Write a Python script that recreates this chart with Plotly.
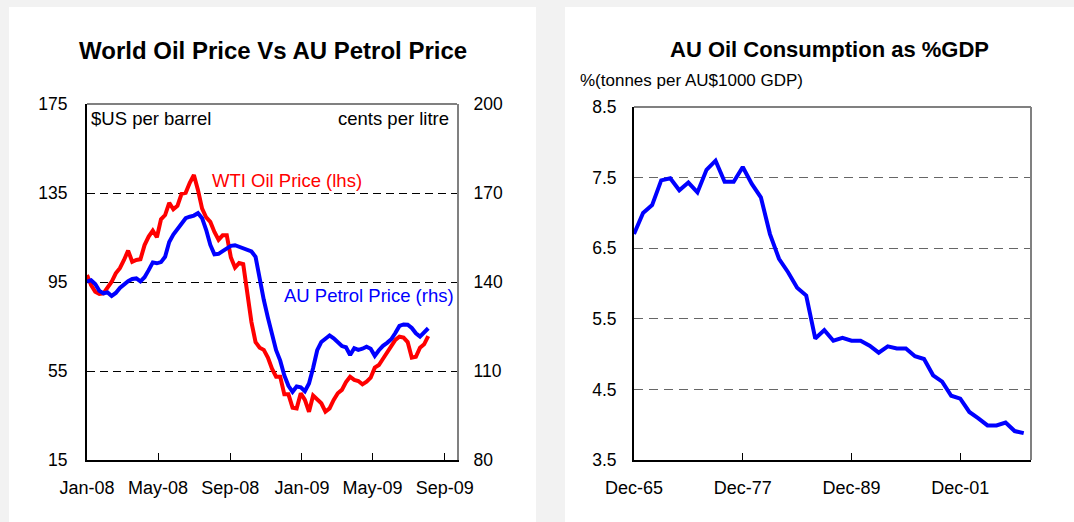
import pandas as pd
import plotly.graph_objects as go

# ---------------- data ----------------
# Left chart: weekly series starting first week of Jan 2008
wti_oil_price = [98.1, 93.6, 90.6, 89.6, 89.9, 92.2, 95.1, 98.9, 101.2, 104.9,
                 109.1, 104.1, 104.9, 105.2, 111.6, 115.4, 118.1, 115.1, 123.2, 125.1,
                 130.6, 127.7, 129.2, 134.6, 135.1, 139.6, 143.1, 136.3, 128.0, 124.0,
                 122.0, 117.5, 114.0, 116.0, 116.0, 106.0, 101.5, 103.5, 103.0, 90.0,
                 77.0, 68.0, 65.5, 64.5, 61.0, 56.0, 52.4, 52.4, 44.5, 44.5,
                 38.5, 38.2, 45.0, 42.0, 36.7, 44.0, 42.0, 40.5, 36.7, 38.2,
                 42.0, 45.0, 46.5, 50.0, 52.4, 51.0, 50.5, 49.0, 50.2, 52.0,
                 56.5, 57.7, 60.5, 63.5, 66.5, 69.0, 70.4, 70.0, 68.0, 61.0,
                 61.4, 65.5, 67.0, 70.7]
au_petrol_price = [140.1, 140.6, 139.3, 137.0, 136.2, 136.5, 135.3, 136.3, 138.0, 139.2,
                   140.3, 141.0, 141.2, 140.2, 141.6, 144.0, 146.6, 146.3, 146.7, 148.5,
                   153.5, 156.0, 158.0, 159.8, 161.5, 162.0, 162.4, 163.2, 161.5, 157.5,
                   152.5, 149.3, 149.5, 150.4, 151.5, 152.2, 152.4, 151.9, 151.2, 150.8,
                   150.3, 148.5, 141.0, 134.0, 128.0, 122.0, 117.0, 113.5, 108.5, 105.0,
                   103.0, 104.8, 104.5, 103.2, 105.8, 111.0, 117.0, 119.8, 121.0, 122.0,
                   121.0, 119.5, 118.4, 118.0, 115.4, 117.7, 117.1, 117.5, 118.2, 117.5,
                   115.1, 117.0, 118.5, 119.5, 120.7, 122.8, 125.2, 125.7, 125.6, 124.5,
                   122.7, 121.6, 123.0, 124.4]
weeks = pd.date_range("2008-01-01", periods=len(wti_oil_price), freq="7D")

# Right chart: annual, Dec-1965 .. Dec-2008
years = list(range(1965, 2009))
oil_consumption_pct_gdp = [6.70, 7.00, 7.11, 7.46, 7.49, 7.32, 7.43, 7.29, 7.61, 7.74,
                           7.44, 7.44, 7.65, 7.41, 7.22, 6.70, 6.35, 6.16, 5.94, 5.83,
                           5.22, 5.34, 5.19, 5.23, 5.19, 5.19, 5.12, 5.02, 5.11, 5.08,
                           5.08, 4.97, 4.93, 4.70, 4.61, 4.41, 4.37, 4.18, 4.09, 3.99,
                           3.99, 4.03, 3.91, 3.88]
year_dates = [f"{y}-12-01" for y in years]

right_tick_years = [1965, 1977, 1989, 2001]
right_tick_labels = ["Dec-65", "Dec-77", "Dec-89", "Dec-01"]

# ---------------- layout helpers ----------------
W, H = 1074, 522
def px(x):
    return x / W
def py(y):
    return 1 - y / H

FONT = "Liberation Sans, Arial, sans-serif"
RED = "#ff0000"
BLUE = "#0000ff"

fig = go.Figure()

fig.add_trace(go.Scatter(x=weeks, y=wti_oil_price, mode="lines",
                         line=dict(color=RED, width=4), xaxis="x", yaxis="y",
                         showlegend=False))
fig.add_trace(go.Scatter(x=weeks, y=au_petrol_price, mode="lines",
                         line=dict(color=BLUE, width=4), xaxis="x", yaxis="y2",
                         showlegend=False))
fig.add_trace(go.Scatter(x=year_dates, y=oil_consumption_pct_gdp, mode="lines",
                         line=dict(color=BLUE, width=4), xaxis="x3", yaxis="y3",
                         showlegend=False))

xtickfont = dict(family=FONT, size=18, color="#000")
ytickfont = dict(family=FONT, size=17.5, color="#000")

left_dom_x = [px(87), px(457)]
left_dom_y = [py(460), py(104)]
right_dom_x = [px(634), px(1031)]
right_dom_y = [py(460), py(107)]

fig.update_layout(
    width=W, height=H, autosize=False,
    margin=dict(l=0, r=0, t=0, b=0, autoexpand=False),
    paper_bgcolor="#f2f2f2", plot_bgcolor="rgba(0,0,0,0)",
    xaxis=dict(domain=left_dom_x, anchor="y", type="date", automargin=False,
               range=["2008-01-01", "2009-09-22"],
               tick0="2008-01-01", dtick="M4", tickformat="%b-%y",
               ticks="inside", ticklen=7, tickcolor="#000", tickwidth=1,
               showline=True, linecolor="#000", linewidth=2,
               showgrid=False, zeroline=False, tickfont=xtickfont,
               ticklabelstandoff=10),
    yaxis=dict(domain=left_dom_y, anchor="x", range=[15, 175], automargin=False,
               tickvals=[15, 55, 95, 135, 175],
               showline=True, linecolor="#000", linewidth=2,
               showgrid=True, gridcolor="#000", gridwidth=1, griddash="8px,5px",
               zeroline=False, ticks="", tickfont=ytickfont,
               ticklabelstandoff=14),
    yaxis2=dict(overlaying="y", anchor="x", side="right", range=[80, 200],
                automargin=False,
                tickvals=[80, 110, 140, 170, 200],
                showline=True, linecolor="#808080", linewidth=2,
                showgrid=False, zeroline=False, ticks="", tickfont=ytickfont,
                ticklabelstandoff=11),
    xaxis3=dict(domain=right_dom_x, anchor="y3", type="date", automargin=False,
                range=["1965-12-01", "2009-09-20"],
                tickvals=[f"{y}-12-01" for y in right_tick_years],
                ticktext=right_tick_labels,
                ticks="inside", ticklen=7, tickcolor="#000", tickwidth=1,
                showline=True, linecolor="#000", linewidth=2,
                showgrid=False, zeroline=False, tickfont=xtickfont,
                ticklabelstandoff=10),
    yaxis3=dict(domain=right_dom_y, anchor="x3", range=[3.5, 8.5], automargin=False,
                tickvals=[3.5, 4.5, 5.5, 6.5, 7.5, 8.5], tickformat=".1f",
                showline=True, linecolor="#000", linewidth=2,
                showgrid=True, gridcolor="#666", gridwidth=1, griddash="9px,6px",
                zeroline=False, ticks="", tickfont=ytickfont,
                ticklabelstandoff=12),
)

shapes = [
    # white panels
    dict(type="rect", xref="paper", yref="paper", x0=px(9), x1=px(536), y0=0, y1=py(7),
         fillcolor="#ffffff", line=dict(width=0), layer="below"),
    dict(type="rect", xref="paper", yref="paper", x0=px(565), x1=1, y0=0, y1=py(7),
         fillcolor="#ffffff", line=dict(width=0), layer="below"),
    # top / right frame lines
    dict(type="line", xref="x domain", yref="y domain", x0=0, x1=1, y0=1, y1=1,
         line=dict(color="#808080", width=2), layer="above"),
    dict(type="line", xref="x3 domain", yref="y3 domain", x0=0, x1=1, y0=1, y1=1,
         line=dict(color="#808080", width=2), layer="above"),
    dict(type="line", xref="x3 domain", yref="y3 domain", x0=1, x1=1, y0=0, y1=1,
         line=dict(color="#808080", width=2), layer="above"),
]
fig.update_layout(shapes=shapes)

ann = [
    dict(text="<b>World Oil Price Vs AU Petrol Price</b>", x=px(273), y=py(50),
         xanchor="center", yanchor="middle", font=dict(family=FONT, size=24, color="#000")),
    dict(text="<b>AU Oil Consumption as %GDP</b>", x=px(829), y=py(49),
         xanchor="center", yanchor="middle", font=dict(family=FONT, size=22, color="#000")),
    dict(text="%(tonnes per AU$1000 GDP)", x=px(578), y=py(81),
         xanchor="left", yanchor="middle", font=dict(family=FONT, size=17, color="#000")),
    dict(text="$US per barrel", x=px(89), y=py(118),
         xanchor="left", yanchor="middle", font=dict(family=FONT, size=18.5, color="#000")),
    dict(text="cents per litre", x=px(451), y=py(118),
         xanchor="right", yanchor="middle", font=dict(family=FONT, size=18.5, color="#000")),
    dict(text="WTI Oil Price (lhs)", x=px(210), y=py(180),
         xanchor="left", yanchor="middle", font=dict(family=FONT, size=18.5, color=RED)),
    dict(text="AU Petrol Price (rhs)", x=px(456), y=py(295),
         xanchor="right", yanchor="middle", font=dict(family=FONT, size=18.5, color=BLUE)),
]
for a in ann:
    a.update(xref="paper", yref="paper", showarrow=False)
fig.update_layout(annotations=ann)

fig.write_html("out.html",
               config={"displayModeBar": False},
               post_script="document.body.style.margin='0';document.body.style.padding='0';")
